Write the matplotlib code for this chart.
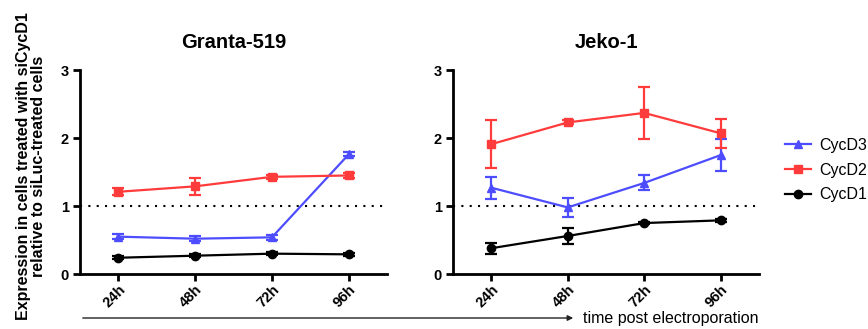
import matplotlib
matplotlib.use("Agg")
import matplotlib.pyplot as plt
from matplotlib.lines import Line2D

timepoints = ["24h", "48h", "72h", "96h"]
panels = ["Granta-519", "Jeko-1"]

# Granta-519
g_d3 = [0.55, 0.52, 0.54, 1.76]
g_d3_err = [0.04, 0.04, 0.04, 0.03]
g_d2 = [1.21, 1.29, 1.43, 1.45]
g_d2_err = [0.05, 0.12, 0.03, 0.03]
g_d1 = [0.24, 0.27, 0.30, 0.29]
g_d1_err = [0.02, 0.02, 0.02, 0.02]

# Jeko-1
j_d3 = [1.27, 0.98, 1.34, 1.75]
j_d3_err = [0.16, 0.14, 0.11, 0.23]
j_d2 = [1.91, 2.23, 2.37, 2.07]
j_d2_err = [0.35, 0.03, 0.38, 0.21]
j_d1 = [0.38, 0.56, 0.75, 0.79]
j_d1_err = [0.08, 0.12, 0.02, 0.02]

series_names = ["CycD3", "CycD2", "CycD1"]
colors = ["#4D4DFF", "#FF3B3B", "#000000"]
markers = ["^", "s", "o"]

plt.rcParams['font.family'] = ['Liberation Sans', 'DejaVu Sans']

fig = plt.figure(figsize=(8.68, 3.29), dpi=100)
axL = fig.add_axes([0.0922, 0.167, 0.3537, 0.620])
axR = fig.add_axes([0.5219, 0.167, 0.3525, 0.620])

data = [
    [(g_d3, g_d3_err), (g_d2, g_d2_err), (g_d1, g_d1_err)],
    [(j_d3, j_d3_err), (j_d2, j_d2_err), (j_d1, j_d1_err)],
]

xs = list(range(len(timepoints)))
for ax, title, pdata in zip([axL, axR], panels, data):
    ax.axhline(1, color="black", linestyle=(0, (1, 3)), linewidth=1.5, zorder=1)
    for (vals, errs), c, m in zip(pdata, colors, markers):
        ax.errorbar(xs, vals, yerr=errs, color=c, marker=m, markersize=6,
                    linewidth=1.6, capsize=4, capthick=1.6, elinewidth=1.6, zorder=3)
    ax.set_xlim(-0.5, 3.5)
    ax.set_ylim(0, 3)
    ax.set_yticks([0, 1, 2, 3])
    ax.set_xticks(xs)
    ax.set_xticklabels(timepoints, rotation=45, ha="right", rotation_mode="anchor",
                       fontweight="bold", fontsize=10.5)
    for lab in ax.get_yticklabels():
        lab.set_fontweight("bold")
        lab.set_fontsize(10.5)
    for s in ["top", "right"]:
        ax.spines[s].set_visible(False)
    for s in ["left", "bottom"]:
        ax.spines[s].set_linewidth(2)
    ax.tick_params(width=2, length=5, pad=3)
    ax.tick_params(axis="x", pad=1)
    ax.set_title(title, fontweight="bold", fontsize=14.5, pad=16)

axL.set_ylabel("Expression in cells treated with siCycD1\nrelative to siLuc-treated cells",
               fontweight="bold", fontsize=11.5, linespacing=1.0, va="center")
axL.yaxis.set_label_coords(-0.16, 0.53)

handles = [Line2D([0], [0], color=c, marker=m, markersize=6, linewidth=1.6)
           for c, m in zip(colors, markers)]
fig.legend(handles, series_names, loc="upper left", bbox_to_anchor=(0.897, 0.6),
           frameon=False, fontsize=11.5, handlelength=1.6, handletextpad=0.55,
           labelspacing=0.6, borderaxespad=0)

fig.add_artist(matplotlib.patches.FancyArrowPatch(
    (80 / 868, 1 - 318 / 329), (576 / 868, 1 - 318 / 329),
    transform=fig.transFigure, arrowstyle="-|>", mutation_scale=8,
    color="#222222", linewidth=1.0))
fig.text(583 / 868, 1 - 318 / 329, "time post electroporation", fontsize=11.5,
         va="center", ha="left")

fig.savefig("out.png", dpi=100)
